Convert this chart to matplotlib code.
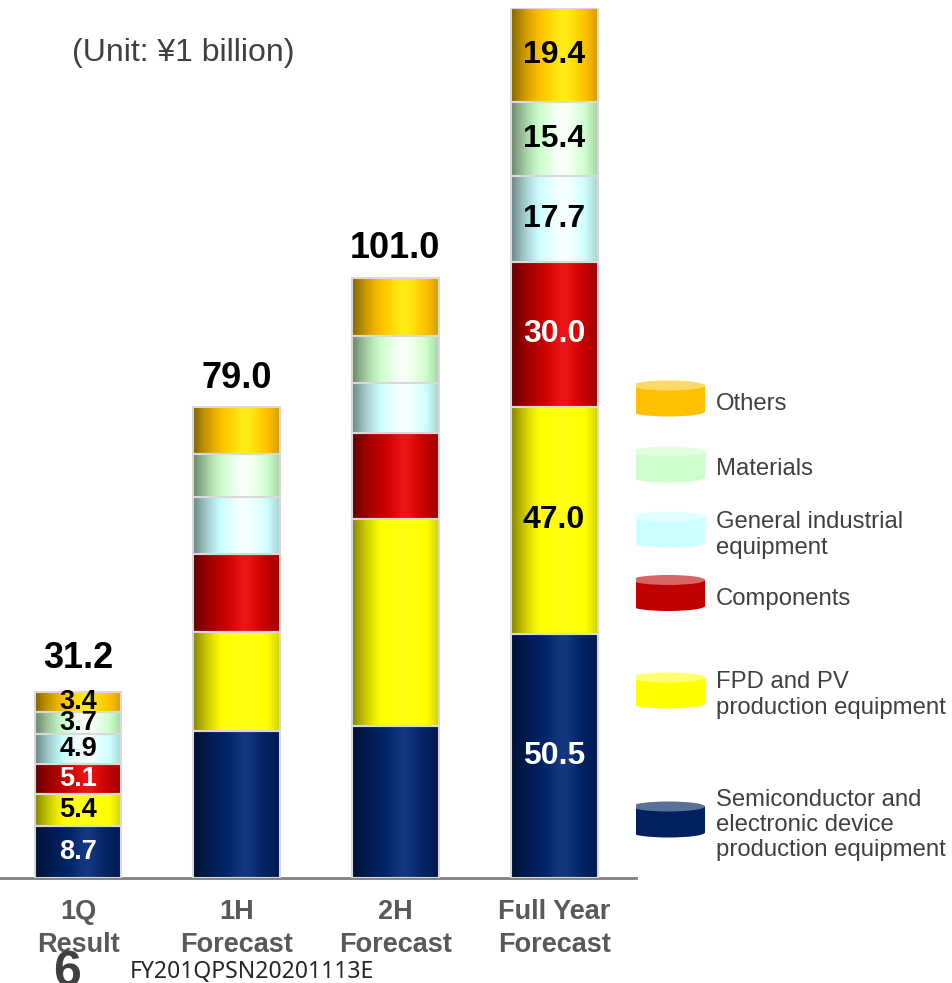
import numpy as np
import matplotlib.pyplot as plt
from matplotlib.patches import Rectangle, Ellipse

plt.rcParams['font.family'] = ['Liberation Sans', 'DejaVu Sans']

# data (unit: 1 billion yen)
categories = ['1Q\nResult', '1H\nForecast', '2H\nForecast', 'Full Year\nForecast']
segments = ['Semiconductor and\nelectronic device\nproduction equipment',
            'FPD and PV\nproduction equipment',
            'Components',
            'General industrial\nequipment',
            'Materials',
            'Others']
q1_result = [8.7, 5.4, 5.1, 4.9, 3.7, 3.4]
h1_forecast = [24.7, 16.5, 13.2, 9.5, 7.2, 7.9]
h2_forecast = [25.5, 34.7, 14.4, 8.5, 7.9, 9.7]
full_year = [50.5, 47.0, 30.0, 17.7, 15.4, 19.4]
totals = [31.2, 79.0, 101.0, 180.0]
show_totals = [True, True, True, False]
show_values = [True, False, False, True]

colors = ['#002060', '#FFFF00', '#C00000', '#CCFFFF', '#CCFFCC', '#FFC000']
top_colors = ['#5B7096', '#FFFF70', '#D86464', '#E2FFFF', '#E2FFE2', '#FFD966']
text_colors = ['white', 'black', 'white', 'black', 'black', 'black']


def cylinder_shade(hex_color, n=96):
    base = np.array(plt.matplotlib.colors.to_rgb(hex_color))
    t = np.linspace(0, 1, n)
    tp = 0.6
    shade = np.where(t < tp,
                     1.12 - 0.6 * ((tp - t) / tp) ** 2,
                     1.12 - 0.3 * ((t - tp) / (1 - tp)) ** 2)
    hl = 0.08 * np.exp(-((t - tp) / 0.15) ** 2)
    rgb = base[None, :] * shade[:, None] + hl[:, None]
    return np.clip(rgb, 0, 1)[None, :, :]


fig = plt.figure(figsize=(9.52, 9.83), dpi=100)
ax = fig.add_axes([0, 105 / 983, 636 / 952, 870 / 983])
# full year bar is drawn on its own scale, as in the original slide
ax2 = ax.twinx()

x = np.arange(len(categories))
width = 0.548
series = [q1_result, h1_forecast, h2_forecast, full_year]

for i, vals in enumerate(series):
    a = ax2 if i == 3 else ax
    bottom = 0
    for j, v in enumerate(vals):
        bar = a.bar(x[i], v, width, bottom=bottom, color=colors[j], zorder=2)[0]
        x0, y0 = bar.get_x(), bar.get_y()
        a.imshow(cylinder_shade(colors[j]), extent=(x0, x0 + bar.get_width(), y0, y0 + bar.get_height()),
                 aspect='auto', interpolation='bilinear', zorder=3)
        a.bar(x[i], v, width, bottom=bottom, fill=False, edgecolor='#D9D9D9', linewidth=1.5, zorder=4)
        if show_values[i]:
            a.text(x[i], bottom + v / 2, '%.1f' % v, ha='center', va='center',
                   fontsize=19.5 if i == 0 else 23, fontweight='bold', color=text_colors[j], zorder=5)
        bottom += v
    if show_totals[i]:
        a.annotate('%.1f' % totals[i], (x[i], bottom), xytext=(0, 17 if i == 0 else 14),
                   textcoords='offset points', ha='center', va='baseline', fontsize=26,
                   fontweight='bold', color='black', zorder=5, annotation_clip=False)

ax.set_xlim(-0.4915, 3.516)
ax.set_ylim(0, 870 / 5.96)
ax2.set_ylim(0, 180)
for a in (ax, ax2):
    for s in ['top', 'right', 'left']:
        a.spines[s].set_visible(False)
    a.set_yticks([])
ax2.spines['bottom'].set_visible(False)
ax.spines['bottom'].set_color('#808080')
ax.spines['bottom'].set_linewidth(2)
ax.set_xticks(x)
ax.set_xticklabels(categories, fontsize=19.5, fontweight='bold', color='#595959', linespacing=1.38)
ax.tick_params(axis='x', length=0, pad=15)

fig.text(72 / 952, 1 - 53 / 983, '(Unit: \u00a51 billion)', fontsize=23, color='#404040', va='center', ha='left')

# legend with cylinder icons
lax = fig.add_axes([0, 0, 1, 1], zorder=-1)
lax.set_xlim(0, 952)
lax.set_ylim(983, 0)
lax.axis('off')
icon_y = [819.5, 690.5, 593, 529.5, 464.5, 398.5]
text_y = [825, 695, 599, 535, 469, 404]
for j, seg in enumerate(segments):
    cy = icon_y[j]
    lax.add_patch(Ellipse((668.5, cy + 13), 73, 10, color=colors[j], lw=0))
    lax.add_patch(Rectangle((632, cy - 13), 73, 26, color=colors[j], lw=0))
    lax.add_patch(Ellipse((668.5, cy - 13), 73, 10, color=top_colors[j], lw=0))
    lax.text(716, text_y[j], seg, fontsize=17.2, color='#404040', va='center', ha='left', linespacing=1.2)

fig.text(67 / 952, 1 - 986 / 983, '6', fontsize=36, fontweight='bold', color='#404040', ha='center', va='baseline')
fig.text(130 / 952, 1 - 978 / 983, 'FY201QPSN20201113E', fontsize=16.5, color='#262626', ha='left', va='baseline',
         family=['Noto Sans', 'DejaVu Sans'])

fig.savefig('out.png', dpi=100)
